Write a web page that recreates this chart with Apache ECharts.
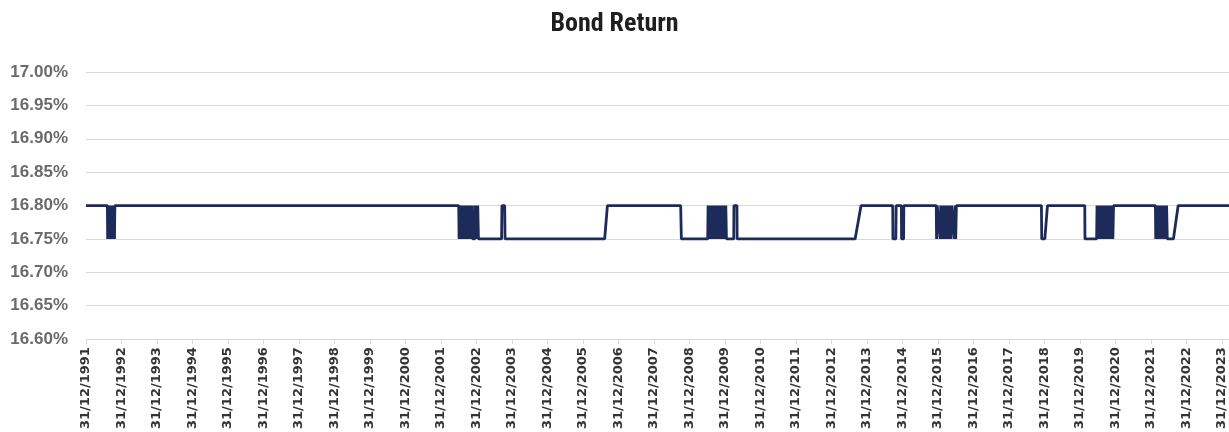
<!DOCTYPE html>
<html>
<head>
<meta charset="utf-8">
<script src="https://cdn.jsdelivr.net/npm/echarts@6/dist/echarts.min.js"></script>
<style>
html,body{margin:0;padding:0;background:#fff;}
#chart{width:1229px;height:432px;}
</style>
</head>
<body>
<div id="chart"></div>
<script>
// ---- data ----
const chartTitle = 'Bond Return';
const startDate = '1991-12-31';
const endDate = '2024-03-13';
const yTicks = [16.60, 16.65, 16.70, 16.75, 16.80, 16.85, 16.90, 16.95, 17.00];

const dates = [
  '1991-12-31','1992-08-07',
  '1992-08-10','1992-08-17','1992-08-24','1992-08-31','1992-09-07','1992-09-14','1992-09-21','1992-09-28','1992-10-05','1992-10-12','1992-10-19','1992-10-23',
  '2002-07-01','2002-07-05','2002-07-12','2002-07-19','2002-07-26','2002-08-02','2002-08-09','2002-08-16','2002-08-23','2002-08-30','2002-09-06',
  '2002-09-13','2002-09-20','2002-09-27','2002-10-04','2002-10-11','2002-10-18','2002-10-25','2002-11-01','2002-11-08','2002-11-15','2002-11-22',
  '2002-12-13','2002-12-16','2002-12-23','2002-12-30','2003-01-06','2003-01-13','2003-01-20',
  '2003-09-15','2003-09-19','2003-10-17','2003-10-21',
  '2006-08-11','2006-09-08','2008-10-01','2008-10-08',
  '2009-07-06','2009-07-10','2009-07-17','2009-07-24','2009-07-31','2009-08-07','2009-08-14','2009-08-21','2009-08-28','2009-09-04',
  '2009-09-11','2009-09-18','2009-09-25','2009-10-02','2009-10-09','2009-10-16','2009-10-23','2009-10-30','2009-11-06','2009-11-13',
  '2009-11-20','2009-11-27','2009-12-04','2009-12-11','2009-12-18','2009-12-25','2010-01-01','2010-01-08','2010-01-15',
  '2010-03-31','2010-04-02','2010-05-03','2010-05-05',
  '2013-08-31','2013-10-31',
  '2014-09-22','2014-09-24','2014-10-24','2014-10-27','2014-12-20','2014-12-22','2015-01-12','2015-01-14',
  '2015-12-14','2015-12-17','2015-12-24','2016-01-22','2016-01-29','2016-02-05','2016-02-12',
  '2016-03-04','2016-03-11','2016-03-18','2016-03-25','2016-04-01','2016-04-08','2016-04-15','2016-04-22',
  '2016-05-13','2016-05-20','2016-06-17','2016-06-24','2016-07-01','2016-07-08',
  '2018-11-30','2018-12-03','2019-01-04','2019-01-31',
  '2020-02-19','2020-02-21','2020-06-20','2020-06-24','2020-07-01','2020-07-08','2020-07-15','2020-07-22','2020-07-29',
  '2020-08-14','2020-08-21','2020-08-28','2020-09-04','2020-09-11','2020-09-18','2020-09-25','2020-10-02',
  '2020-10-16','2020-10-23','2020-10-30','2020-11-06','2020-11-13','2020-11-20','2020-11-27','2020-12-04','2020-12-11',
  '2022-02-15','2022-02-18','2022-02-25','2022-03-04','2022-03-11','2022-03-18','2022-03-25','2022-04-01','2022-04-08','2022-04-15','2022-04-22','2022-04-29',
  '2022-05-13','2022-05-20','2022-05-27','2022-06-03','2022-06-10','2022-06-17',
  '2022-08-19','2022-10-07','2024-03-13'
];

const returns = [
  16.80,16.80,
  16.75,16.80,16.75,16.80,16.75,16.80,16.75,16.80,16.75,16.80,16.75,16.80,
  16.80,16.75,16.80,16.75,16.80,16.75,16.80,16.75,16.80,16.75,16.80,
  16.75,16.80,16.75,16.80,16.75,16.80,16.75,16.80,16.75,16.80,16.75,
  16.75,16.80,16.75,16.80,16.75,16.80,16.75,
  16.75,16.80,16.80,16.75,
  16.75,16.80,16.80,16.75,
  16.75,16.80,16.75,16.80,16.75,16.80,16.75,16.80,16.75,16.80,
  16.75,16.80,16.75,16.80,16.75,16.80,16.75,16.80,16.75,16.80,
  16.75,16.80,16.75,16.80,16.75,16.80,16.75,16.80,16.75,
  16.75,16.80,16.80,16.75,
  16.75,16.80,
  16.80,16.75,16.75,16.80,16.80,16.75,16.75,16.80,
  16.80,16.75,16.80,16.75,16.80,16.75,16.80,
  16.75,16.80,16.75,16.80,16.75,16.80,16.75,16.80,
  16.75,16.80,16.75,16.80,16.75,16.80,
  16.80,16.75,16.75,16.80,
  16.80,16.75,16.75,16.80,16.75,16.80,16.75,16.80,16.75,
  16.80,16.75,16.80,16.75,16.80,16.75,16.80,16.75,
  16.80,16.75,16.80,16.75,16.80,16.75,16.80,16.75,16.80,
  16.80,16.75,16.80,16.75,16.80,16.75,16.80,16.75,16.80,16.75,16.80,16.75,
  16.80,16.75,16.80,16.75,16.80,16.75,
  16.75,16.80,16.80
];

// ---- build ----
const DAY = 86400000;
const YEAR_DAYS = 365.25;
function daysFromStart(s) {
  const a = s.split('-').map(Number), b = startDate.split('-').map(Number);
  return (Date.UTC(a[0], a[1] - 1, a[2]) - Date.UTC(b[0], b[1] - 1, b[2])) / DAY;
}
const startYear = Number(startDate.slice(0, 4));
const seriesData = dates.map((d, i) => [daysFromStart(d), returns[i]]);

const chart = echarts.init(document.getElementById('chart'), null, {renderer: 'canvas'});
chart.setOption({
  animation: false,
  backgroundColor: '#ffffff',
  title: {
    text: chartTitle,
    left: 'center',
    top: 6,
    textStyle: {
      fontFamily: '"Liberation Sans Narrow", "Roboto Condensed", Roboto, sans-serif',
      fontSize: 26,
      fontWeight: 'bold',
      color: '#1f1f1f'
    }
  },
  grid: {left: 86, right: 0, top: 72, bottom: 92, containLabel: false},
  xAxis: {
    type: 'value',
    min: 0,
    max: daysFromStart(endDate),
    interval: YEAR_DAYS,
    axisLine: {show: true, lineStyle: {color: '#d9d9d9', width: 1}},
    axisTick: {show: true, length: 5, lineStyle: {color: '#d9d9d9'}},
    splitLine: {show: false},
    axisLabel: {
      rotate: 90,
      margin: 8,
      showMaxLabel: false,
      fontFamily: '"DejaVu Sans", sans-serif',
      fontWeight: 'bold',
      fontSize: 13,
      color: '#333333',
      formatter: v => '31/12/' + (startYear + Math.round(v / YEAR_DAYS))
    }
  },
  yAxis: {
    type: 'value',
    min: yTicks[0],
    max: yTicks[yTicks.length - 1],
    interval: 0.05,
    axisLine: {show: false},
    axisTick: {show: false},
    splitLine: {show: true, lineStyle: {color: '#d9d9d9', width: 1}},
    axisLabel: {
      margin: 18,
      fontFamily: '"Liberation Sans", Arial, sans-serif',
      fontSize: 17,
      fontWeight: 'bold',
      color: '#6a6a6a',
      formatter: v => v.toFixed(2) + '%'
    }
  },
  series: [{
    type: 'line',
    data: seriesData,
    showSymbol: false,
    symbol: 'none',
    lineStyle: {color: '#1c2b5a', width: 2.8},
    itemStyle: {color: '#1c2b5a'}
  }]
});
</script>
</body>
</html>
